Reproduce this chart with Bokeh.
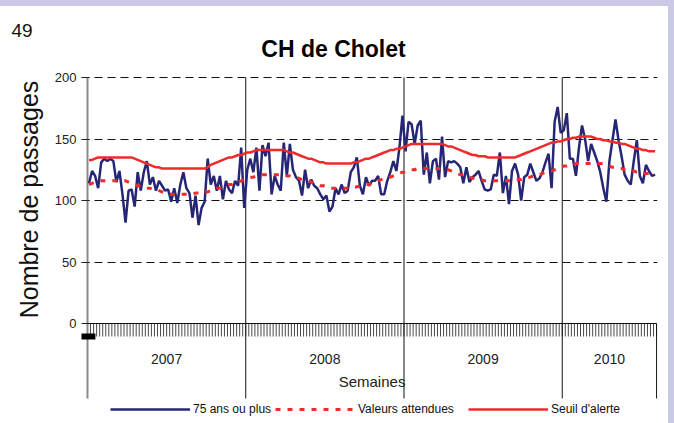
import math
from bokeh.plotting import figure
from bokeh.layouts import row, column
from bokeh.models import (Range1d, FixedTicker, Label, Legend, LegendItem, BoxAnnotation, Div)
from bokeh.embed import file_html
from bokeh.resources import INLINE

# ---------------- data (weekly values) ----------------
years = ["2007", "2008", "2009", "2010"]
weeks_per_year = [52, 52, 52, 31]

obs_2007 = [114, 124, 120, 110, 131, 134, 132, 134, 132, 115, 124, 105, 82, 108, 109, 95,
            123, 108, 123, 132, 113, 119, 108, 116, 112, 108, 109, 99, 110, 98, 113, 123,
            110, 106, 86, 104, 80, 94, 99, 134, 113, 120, 108, 120, 101, 116, 109, 106,
            116, 112, 143, 94]
obs_2008 = [125, 134, 123, 143, 108, 145, 136, 147, 105, 120, 113, 108, 147, 120, 146, 125,
            119, 116, 104, 125, 110, 117, 112, 110, 105, 101, 104, 91, 95, 110, 105, 113,
            106, 108, 123, 127, 135, 112, 105, 119, 112, 116, 116, 120, 105, 105, 116, 123,
            132, 124, 143, 169]
obs_2009 = [140, 164, 162, 146, 161, 165, 121, 139, 114, 132, 134, 117, 152, 119, 132, 131,
            132, 130, 127, 114, 127, 115, 119, 121, 124, 116, 109, 108, 109, 121, 120, 139,
            106, 120, 97, 124, 130, 121, 100, 119, 121, 130, 123, 116, 118, 123, 131, 138,
            110, 164, 176, 155]
obs_2010 = [157, 171, 134, 134, 120, 143, 161, 150, 132, 146, 139, 132, 123, 110, 99, 132,
            149, 166, 149, 136, 121, 116, 113, 132, 149, 120, 114, 129, 124, 120, 121]

exp_2007 = [113, 114, 115, 115, 116, 116, 116, 116, 116, 116, 116, 116, 116, 115, 114, 113,
            112, 112, 111, 110, 110, 109, 109, 108, 107, 106, 106, 105, 105, 105, 105, 105,
            105, 105, 105, 106, 106, 106, 107, 107, 108, 109, 110, 110, 111, 112, 113, 113,
            114, 115, 116, 117]
exp_2008 = [118, 119, 119, 120, 120, 121, 121, 121, 121, 121, 121, 121, 121, 120, 120, 119,
            119, 118, 117, 117, 116, 115, 114, 113, 112, 112, 111, 110, 110, 110, 110, 110,
            110, 110, 110, 111, 111, 112, 112, 113, 113, 114, 115, 116, 117, 118, 118, 119,
            120, 121, 122, 123]
exp_2009 = [123, 124, 125, 125, 126, 126, 126, 126, 126, 126, 126, 126, 126, 125, 125, 124,
            123, 122, 121, 121, 120, 119, 118, 118, 117, 117, 116, 116, 116, 116, 116, 116,
            116, 116, 116, 116, 116, 117, 117, 118, 119, 119, 120, 121, 121, 122, 123, 124,
            124, 125, 126, 127]
exp_2010 = [128, 128, 129, 129, 130, 130, 130, 130, 130, 130, 130, 130, 130, 130, 129, 128,
            127, 127, 126, 126, 125, 125, 124, 124, 123, 123, 122, 122, 122, 121, 121]

seuil_2007 = [133, 133, 134, 135, 135, 135, 135, 135, 135, 135, 135, 135, 135, 135, 135, 134,
              133, 132, 131, 130, 129, 128, 127, 127, 126, 126, 126, 126, 126, 126, 126, 126,
              126, 126, 126, 126, 126, 126, 126, 127, 129, 130, 131, 132, 133, 134, 135, 135,
              136, 137, 137, 138]
seuil_2008 = [139, 139, 140, 141, 141, 141, 141, 141, 141, 141, 141, 141, 141, 140, 139, 139,
              138, 137, 136, 135, 134, 134, 133, 132, 131, 131, 130, 130, 130, 130, 130, 130,
              130, 130, 130, 131, 131, 132, 133, 134, 134, 135, 136, 137, 138, 139, 140, 141,
              141, 142, 142, 143]
seuil_2009 = [144, 145, 146, 146, 146, 146, 146, 146, 146, 146, 146, 146, 146, 145, 144, 144,
              143, 142, 141, 140, 139, 138, 137, 137, 136, 136, 136, 135, 135, 135, 135, 135,
              135, 135, 135, 135, 135, 136, 137, 138, 139, 140, 141, 142, 143, 144, 145, 146,
              147, 147, 148, 148]
seuil_2010 = [149, 150, 150, 151, 151, 152, 152, 152, 152, 152, 151, 150, 150, 149, 149, 148,
              148, 147, 147, 146, 146, 145, 144, 143, 142, 142, 141, 141, 140, 140, 140]

y_ticks = [0, 50, 100, 150, 200]
grid_ticks = [50, 100, 150, 200]
series_names = ["75 ans ou plus", "Valeurs attendues", "Seuil d'alerte"]

# ---------------- build ----------------
observed = obs_2007 + obs_2008 + obs_2009 + obs_2010
expected = exp_2007 + exp_2008 + exp_2009 + exp_2010
seuil = seuil_2007 + seuil_2008 + seuil_2009 + seuil_2010
n_weeks = len(observed)
xs = [i + 0.5 for i in range(n_weeks)]

bounds = [0]
for w in weeks_per_year:
    bounds.append(bounds[-1] + w)
year_centers = [(bounds[i] + bounds[i + 1]) / 2 for i in range(len(years))]

FONT = "Liberation Sans"
FRAME_BG = "#CACAE6"
TOP = 6                     # lavender band on top
RIGHT = 6                   # lavender band on the right
H = 423 - TOP
LEFT_W = 46
MAIN_W = 674 - LEFT_W - RIGHT
PX_PER_UNIT = 1.23          # vertical scale
PX_PER_WEEK = 3.043         # horizontal scale
ZERO_Y = 323                # page y of value 0
Y_BOTTOM = (ZERO_Y - 423) / PX_PER_UNIT
Y_TOP = (ZERO_Y - TOP) / PX_PER_UNIT
SEP_BOTTOM = -75 / PX_PER_UNIT   # year separators end below the axis
COMB = -13 / PX_PER_UNIT         # weekly tick length


def band(w, h):
    return Div(text="", width=w, height=h, margin=0,
               styles={"background-color": FRAME_BG, "padding": "0px"})


# ---- left strip: page number + y axis title ----
left = figure(width=LEFT_W, height=H, output_backend="svg", toolbar_location=None,
              x_range=Range1d(0, LEFT_W), y_range=Range1d(423, TOP),
              x_axis_type=None, y_axis_type=None,
              min_border_left=0, min_border_right=0, min_border_top=0, min_border_bottom=0)
left.outline_line_color = None
left.grid.visible = False
left.add_layout(Label(x=11, y=30, text="49", text_font=FONT, text_font_size="19px",
                      text_align="left", text_baseline="middle", text_color="#111111"))
left.add_layout(Label(x=28, y=199, text="Nombre de passages", text_font=FONT,
                      text_font_size="25px", angle=math.pi / 2, text_align="center",
                      text_baseline="middle", text_color="#111111"))

# ---- main chart ----
p = figure(width=MAIN_W, height=H, output_backend="svg", toolbar_location=None,
           x_range=Range1d(-1.97, 187.3), y_range=Range1d(Y_BOTTOM, Y_TOP),
           x_axis_type=None, min_border_left=81 - LEFT_W, min_border_right=668 - 657,
           min_border_top=0, min_border_bottom=0)
p.outline_line_color = None
p.background_fill_color = "white"
p.border_fill_color = "white"

ya = p.yaxis[0]
ya.ticker = FixedTicker(ticks=y_ticks)
ya.axis_line_color = None
ya.major_tick_out = 0
ya.major_tick_in = 8
ya.major_tick_line_color = "#222222"
ya.minor_tick_line_color = None
ya.major_label_standoff = 5
ya.major_label_text_font = FONT
ya.major_label_text_font_size = "13px"
ya.major_label_text_color = "#222222"

p.ygrid[0].ticker = FixedTicker(ticks=grid_ticks)
p.ygrid[0].grid_line_color = "#111111"
p.ygrid[0].grid_line_dash = "8 5"
p.ygrid[0].grid_line_width = 1

# weekly comb below the x axis
weeks = list(range(n_weeks + 1))
p.segment(x0=weeks, y0=[0] * len(weeks), x1=weeks, y1=[COMB] * len(weeks),
          line_color="#4a4a4a", line_width=1)
# x axis line
p.segment(x0=[bounds[0]], y0=[0], x1=[bounds[-1]], y1=[0], line_color="#111111", line_width=1)
# y axis line (grey) extending below the axis
p.segment(x0=[bounds[0]], y0=[200], x1=[bounds[0]], y1=[SEP_BOTTOM],
          line_color="#8a8a8a", line_width=2)
# year separators
mid = bounds[1:-1]
p.segment(x0=mid, y0=[200] * len(mid), x1=mid, y1=[SEP_BOTTOM] * len(mid),
          line_color="#111111", line_width=1)
p.segment(x0=[bounds[-1]], y0=[0], x1=[bounds[-1]], y1=[SEP_BOTTOM],
          line_color="#111111", line_width=1)

p.add_layout(BoxAnnotation(left=-2.3, right=2.6, top=-10 / PX_PER_UNIT, bottom=-16 / PX_PER_UNIT,
                           fill_color="black", fill_alpha=1, line_color=None))

# series
r_obs = p.line(xs, observed, line_color="#262677", line_width=2.5)
r_exp = p.line(xs, expected, line_color="#F02A2A", line_width=3, line_dash="5 7")
r_seu = p.line(xs, seuil, line_color="#EE2B2B", line_width=2.5)

# texts
p.add_layout(Label(x=(333 - 87) / PX_PER_WEEK, y=(ZERO_Y - 48) / PX_PER_UNIT, text="CH de Cholet",
                   text_font=FONT, text_font_style="bold", text_font_size="23px",
                   text_align="center", text_baseline="middle", text_color="#000000"))
for yr, c in zip(years, year_centers):
    p.add_layout(Label(x=c, y=(ZERO_Y - 358) / PX_PER_UNIT, text=yr, text_font=FONT,
                       text_font_size="14px", text_align="center", text_baseline="middle",
                       text_color="#222222"))
p.add_layout(Label(x=n_weeks / 2, y=(ZERO_Y - 381) / PX_PER_UNIT, text="Semaines", text_font=FONT,
                   text_font_size="15px", text_align="center", text_baseline="middle",
                   text_color="#222222"))

# legend: three entries placed along the bottom
for name, r, x0 in zip(series_names, [r_obs, r_exp, r_seu], [29, 194, 387]):
    lg = Legend(items=[LegendItem(label=name, renderers=[r])], location=(x0, 7),
                glyph_width=80, glyph_height=10, label_height=10, label_standoff=3,
                padding=0, margin=0, border_line_color=None, background_fill_alpha=0,
                label_text_font=FONT, label_text_font_size="12px",
                label_text_color="#111111")
    p.add_layout(lg)

layout = column(band(674, TOP), row(left, p, band(RIGHT, H)))
open("out.html", "w").write(file_html(layout, INLINE))
